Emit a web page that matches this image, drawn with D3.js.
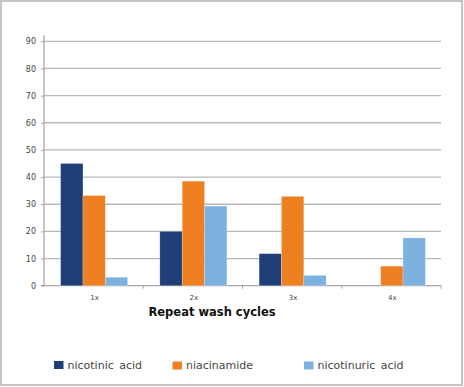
<!DOCTYPE html>
<html>
<head>
<meta charset="utf-8">
<script src="https://cdn.jsdelivr.net/npm/d3@7"></script>
<style>
  html, body { margin: 0; padding: 0; background: #fff; }
  svg { display: block; }
</style>
</head>
<body>
<div id="chart"></div>
<script>
// data
var categories = ['1x', '2x', '3x', '4x'];
var seriesNames = ['nicotinic acid', 'niacinamide', 'nicotinuric acid'];
var nicotinicAcid = [45, 20, 11.8, 0];
var niacinamide = [33.2, 38.5, 32.9, 7.2];
var nicotinuricAcid = [3.1, 29.3, 3.8, 17.6];
var yTicks = [0, 10, 20, 30, 40, 50, 60, 70, 80, 90];
var colors = ['#1f3f77', '#ef8022', '#7db1df'];

var values = [nicotinicAcid, niacinamide, nicotinuricAcid];

var width = 464;
var height = 387;
var margin = {left: 44, right: 23, top: 41.3, bottom: 101.3};

var svg = d3.select('#chart')
		.append('svg')
		.attr('width', width)
		.attr('height', height);

// outer frame
svg.append('rect')
		.attr('x', 1)
		.attr('y', 1)
		.attr('width', width - 3)
		.attr('height', height - 3)
		.attr('fill', '#fff')
		.attr('stroke', '#c4c4c4')
		.attr('stroke-width', 2);

var x0 = d3.scaleBand()
		.domain(categories)
		.range([margin.left, width - margin.right]);

var x1 = d3.scaleBand()
		.domain(seriesNames)
		.range([0, 67])
		.padding(0);

var y = d3.scaleLinear()
		.domain([0, 90])
		.range([height - margin.bottom, margin.top]);

// gridlines
svg.append('g')
		.selectAll('line')
		.data(yTicks.slice(1))
		.enter()
		.append('line')
		.attr('x1', margin.left)
		.attr('x2', width - margin.right)
		.attr('y1', function (d) { return y(d); })
		.attr('y2', function (d) { return y(d); })
		.attr('stroke', '#b8b8b8')
		.attr('stroke-width', 1.3);

// y axis
var yAxis = svg.append('g')
		.attr('transform', 'translate(' + margin.left + ',0)')
		.call(d3.axisLeft(y).tickValues(yTicks).tickSize(3).tickPadding(5));

yAxis.select('.domain')
		.attr('d', 'M-3,' + y(0) + 'H0V' + (margin.top - 6));

// x axis
var xAxis = svg.append('g')
		.attr('transform', 'translate(0,' + y(0) + ')');

xAxis.append('line')
		.attr('x1', margin.left)
		.attr('x2', width - margin.right)
		.attr('stroke', '#a8a8a8')
		.attr('stroke-width', 1.3);

xAxis.selectAll('.xtick')
		.data(categories)
		.enter()
		.append('line')
		.attr('class', 'xtick')
		.attr('x1', function (d) { return x0(d) + x0.bandwidth(); })
		.attr('x2', function (d) { return x0(d) + x0.bandwidth(); })
		.attr('y1', 0)
		.attr('y2', 3)
		.attr('stroke', '#a8a8a8')
		.attr('stroke-width', 1);

xAxis.selectAll('.xlabel')
		.data(categories)
		.enter()
		.append('text')
		.attr('class', 'xlabel')
		.attr('x', function (d) { return x0(d) + x0.bandwidth() / 2 + 1; })
		.attr('y', 14)
		.attr('text-anchor', 'middle')
		.attr('font-family', 'DejaVu Sans, sans-serif')
		.attr('font-size', '7px')
		.attr('fill', '#444')
		.text(function (d) { return d; });

yAxis.selectAll('text')
		.attr('font-family', 'DejaVu Sans, sans-serif')
		.attr('font-size', '8px')
		.attr('fill', '#444');
yAxis.selectAll('line').attr('stroke', '#a8a8a8');
yAxis.select('.domain').attr('stroke', '#a8a8a8').attr('stroke-width', 1.3);

// bars
var groups = svg.append('g')
		.selectAll('g')
		.data(categories)
		.enter()
		.append('g')
		.attr('transform', function (d) {
			var offset = (x0.bandwidth() - 67) / 2 + 0.5;
			return 'translate(' + (x0(d) + offset) + ',0)';
		});

groups.selectAll('rect')
		.data(function (d, i) {
			return seriesNames.map(function (s, k) {
				return {name: s, value: values[k][i], color: colors[k]};
			});
		})
		.enter()
		.filter(function (d) { return d.value > 0; })
		.append('rect')
		.attr('x', function (d) { return x1(d.name); })
		.attr('y', function (d) { return y(d.value); })
		.attr('width', x1.bandwidth())
		.attr('height', function (d) { return y(0) - y(d.value); })
		.attr('fill', function (d) { return d.color; })
		.attr('stroke', '#fff')
		.attr('stroke-opacity', 0.35)
		.attr('stroke-width', 0.6);

// axis title
svg.append('text')
		.attr('x', 212)
		.attr('y', 316)
		.attr('text-anchor', 'middle')
		.attr('font-family', 'DejaVu Sans, sans-serif')
		.attr('font-weight', 'bold')
		.attr('font-size', '11.5px')
		.attr('fill', '#111')
		.text('Repeat wash cycles');

// legend
var legendX = [54, 172.5, 304];
var legendY = [361, 361.5, 361.5];

var legend = svg.append('g')
		.selectAll('g')
		.data(seriesNames)
		.enter()
		.append('g')
		.attr('transform', function (d, i) {
			return 'translate(' + legendX[i] + ',' + legendY[i] + ')';
		});

legend.append('rect')
		.attr('width', 9.5)
		.attr('height', 8)
		.attr('fill', function (d, i) { return colors[i]; });

legend.append('text')
		.attr('x', 13.5)
		.attr('y', 7.5)
		.attr('font-family', 'DejaVu Sans, sans-serif')
		.attr('font-size', '11px')
		.attr('fill', '#444')
		.attr('word-spacing', '2px')
		.text(function (d) { return d; });
</script>
</body>
</html>
